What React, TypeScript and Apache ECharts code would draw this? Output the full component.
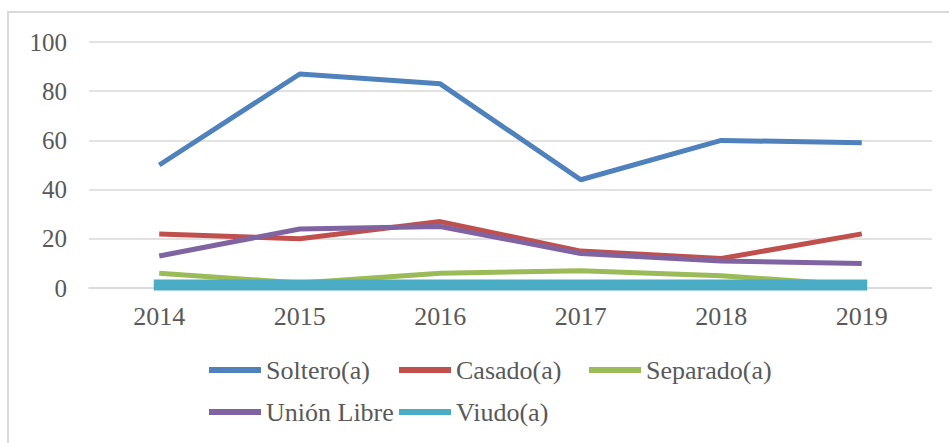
import React, { useEffect, useRef } from "react";
import * as echarts from "echarts";

const years = ["2014", "2015", "2016", "2017", "2018", "2019"];
const soltero = [50, 87, 83, 44, 60, 59];
const casado = [22, 20, 27, 15, 12, 22];
const separado = [6, 2, 6, 7, 5, 1];
const unionLibre = [13, 24, 25, 14, 11, 10];
const viudo = [1.2, 1.2, 1.2, 1.2, 1.2, 1.2];

const seriesNames = ["Soltero(a)", "Casado(a)", "Separado(a)", "Unión Libre", "Viudo(a)"];
const seriesData = [soltero, casado, separado, unionLibre, viudo];
const colors = ["#4F81BD", "#C0504D", "#9BBB59", "#8064A2", "#4BACC6"];
const widths = [5, 5, 5, 5, 11];

const FONT = "'Liberation Serif', serif";
const TEXT = "#595959";

export default function App() {
  const ref = useRef<HTMLDivElement>(null);
  useEffect(() => {
    if (!ref.current) return;
    const chart = echarts.init(ref.current, undefined, { renderer: "svg" });
    const legendPos = [
      { left: 209, top: 357 },
      { left: 399, top: 357 },
      { left: 589, top: 357 },
      { left: 209, top: 399 },
      { left: 399, top: 399 },
    ];
    chart.setOption({
      animation: false,
      backgroundColor: "#ffffff",
      color: colors,
      graphic: [
        {
          type: "rect",
          shape: { x: 8, y: 12, width: 1000, height: 500 },
          style: { fill: "none", stroke: "#D9D9D9", lineWidth: 2 },
          silent: true,
        },
      ],
      grid: { left: 89, right: 17, top: 42, bottom: 155 },
      legend: legendPos.map((p, i) => ({
        data: [seriesNames[i]],
        left: p.left,
        top: p.top,
        icon: "rect",
        itemWidth: 52,
        itemHeight: 6,
        itemGap: 0,
        padding: 0,
        textStyle: { fontFamily: FONT, fontSize: 26, color: TEXT, padding: [0, 0, 0, 0] },
        selectedMode: false,
      })),
      xAxis: {
        type: "category",
        data: years,
        boundaryGap: true,
        axisLine: { show: true, lineStyle: { color: "#D9D9D9", width: 1.5 } },
        axisTick: { show: false },
        axisLabel: { fontFamily: FONT, fontSize: 26, color: TEXT, margin: 15 },
      },
      yAxis: {
        type: "value",
        min: 0,
        max: 100,
        interval: 20,
        axisLine: { show: false },
        axisTick: { show: false },
        splitLine: { lineStyle: { color: "#D9D9D9", width: 1.5 } },
        axisLabel: { fontFamily: FONT, fontSize: 25, color: TEXT, margin: 22 },
      },
      series: seriesNames.map((name, i) => ({
        name,
        type: "line",
        data: seriesData[i],
        showSymbol: false,
        symbol: "none",
        lineStyle: {
          width: widths[i],
          color: colors[i],
          cap: i === 4 ? "square" : "butt",
        },
        itemStyle: { color: colors[i] },
      })),
    });
    return () => chart.dispose();
  }, []);
  return (
    <div
      ref={ref}
      style={{ position: "fixed", left: 0, top: 0, width: 949, height: 443 }}
    />
  );
}
